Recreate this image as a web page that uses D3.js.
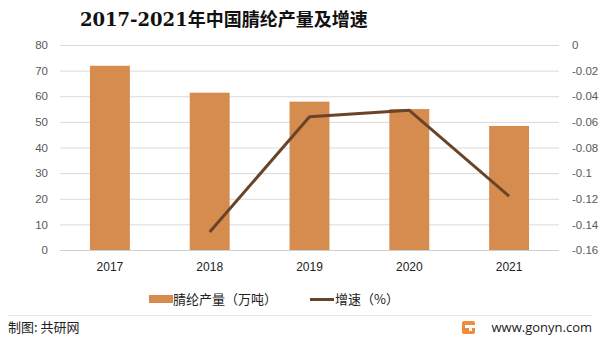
<!DOCTYPE html>
<html>
<head>
<meta charset="utf-8">
<script src="https://cdn.jsdelivr.net/npm/d3@7"></script>
<style>
  html, body { margin: 0; padding: 0; background: #fff; }
  svg { display: block; }
</style>
</head>
<body>
<svg id="chart" width="600" height="345"></svg>
<script>
// Acrylic fibre output in China, 2017-2021, with year-on-year growth
const years = ["2017", "2018", "2019", "2020", "2021"];
const output = [71.9, 61.4, 57.9, 55.0, 48.4];          // 万吨
const growth = [null, -0.146, -0.056, -0.051, -0.118];  // 增速
const leftTicks = [0, 10, 20, 30, 40, 50, 60, 70, 80];
const rightTicks = [0, -0.02, -0.04, -0.06, -0.08, -0.1, -0.12, -0.14, -0.16];

const barColor = "#D68C4E";
const lineColor = "#6A4428";
const gridColor = "#d9d9d9";
const tickColor = "#595959";
const font = "'Liberation Sans', Arial, 'Noto Sans CJK SC', sans-serif";

const svg = d3.select("#chart");
const plot = { left: 60, right: 559, top: 45, bottom: 250 };

const x = d3.scaleBand().domain(years).range([plot.left, plot.right]).paddingInner(0.6).paddingOuter(0.3);
const yL = d3.scaleLinear().domain([0, 80]).range([plot.bottom, plot.top]);
const yR = d3.scaleLinear().domain([-0.16, 0]).range([plot.bottom, plot.top]);

// title
svg.append("text")
  .attr("x", 80).attr("y", 26)
  .attr("font-family", "'DejaVu Serif', 'Noto Sans CJK SC', serif")
  .attr("font-size", 18).attr("font-weight", "bold").attr("fill", "#111")
  .text("2017-2021年中国腈纶产量及增速");

// gridlines
svg.append("g").selectAll("line").data(leftTicks).join("line")
  .attr("x1", plot.left).attr("x2", plot.right)
  .attr("y1", d => yL(d) + 0.5).attr("y2", d => yL(d) + 0.5)
  .attr("stroke", gridColor).attr("stroke-width", 1);

// left axis
const axL = svg.append("g").attr("transform", `translate(${plot.left - 12},0)`)
  .call(d3.axisLeft(yL).tickValues(leftTicks).tickSize(0).tickPadding(0));
axL.select(".domain").remove();
axL.selectAll("text").attr("font-family", font).attr("font-size", 11.5).attr("fill", tickColor);

// right axis
const axR = svg.append("g").attr("transform", `translate(${plot.right + 13},0)`)
  .call(d3.axisRight(yR).tickValues(rightTicks).tickSize(0).tickPadding(0)
    .tickFormat(d => d === 0 ? "0" : String(+d.toFixed(2))));
axR.select(".domain").remove();
axR.selectAll("text").attr("font-family", font).attr("font-size", 11.5).attr("fill", tickColor);

// bars
svg.append("g").selectAll("rect").data(years).join("rect")
  .attr("x", d => x(d)).attr("width", x.bandwidth())
  .attr("y", (d, i) => yL(output[i]))
  .attr("height", (d, i) => yL(0) - yL(output[i]))
  .attr("fill", barColor);

// baseline
svg.append("line")
  .attr("x1", plot.left).attr("x2", plot.right)
  .attr("y1", plot.bottom + 0.5).attr("y2", plot.bottom + 0.5)
  .attr("stroke", "#d0d0d0");

// growth line
const pts = years.map((d, i) => ({ yr: d, v: growth[i] })).filter(p => p.v !== null);
svg.append("path").datum(pts)
  .attr("fill", "none").attr("stroke", lineColor).attr("stroke-width", 3)
  .attr("stroke-linejoin", "round")
  .attr("d", d3.line().x(p => x(p.yr) + x.bandwidth() / 2).y(p => yR(p.v)));

// x axis labels
const axX = svg.append("g").attr("transform", `translate(0,${plot.bottom + 12})`)
  .call(d3.axisBottom(x).tickSize(0).tickPadding(0));
axX.select(".domain").remove();
axX.selectAll("text").attr("font-family", font).attr("font-size", 12).attr("fill", "#222");

// legend
const lg = svg.append("g").attr("font-family", "'Noto Sans CJK SC', sans-serif").attr("font-size", 13).attr("fill", "#222");
lg.append("rect").attr("x", 149).attr("y", 295).attr("width", 24).attr("height", 8).attr("fill", barColor);
lg.append("text").attr("x", 173).attr("y", 304).text("腈纶产量（万吨）");
lg.append("line").attr("x1", 310).attr("x2", 334).attr("y1", 299.5).attr("y2", 299.5)
  .attr("stroke", lineColor).attr("stroke-width", 3);
lg.append("text").attr("x", 335).attr("y", 304).text("增速（%）");

// footer separator
svg.append("line").attr("x1", 8).attr("x2", 592).attr("y1", 315.5).attr("y2", 315.5)
  .attr("stroke", "#e8e8e8");

// footer
svg.append("text").attr("x", 8).attr("y", 332)
  .attr("font-family", "'Noto Sans CJK SC', sans-serif").attr("font-size", 13).attr("fill", "#222")
  .text("制图: 共研网");

const logo = svg.append("g").attr("transform", "translate(462,321)");
logo.append("rect").attr("width", 13).attr("height", 13).attr("rx", 2).attr("fill", "#F08A3C");
logo.append("rect").attr("x", 3).attr("y", 4).attr("width", 10).attr("height", 3).attr("fill", "#fff");
logo.append("rect").attr("x", 7).attr("y", 7).attr("width", 3).attr("height", 3).attr("fill", "#fff");

svg.append("text").attr("x", 592).attr("y", 332).attr("text-anchor", "end")
  .attr("font-family", "'Open Sans', 'Noto Sans', sans-serif").attr("font-size", 13).attr("fill", "#222")
  .text("www.gonyn.com");
</script>
</body>
</html>
